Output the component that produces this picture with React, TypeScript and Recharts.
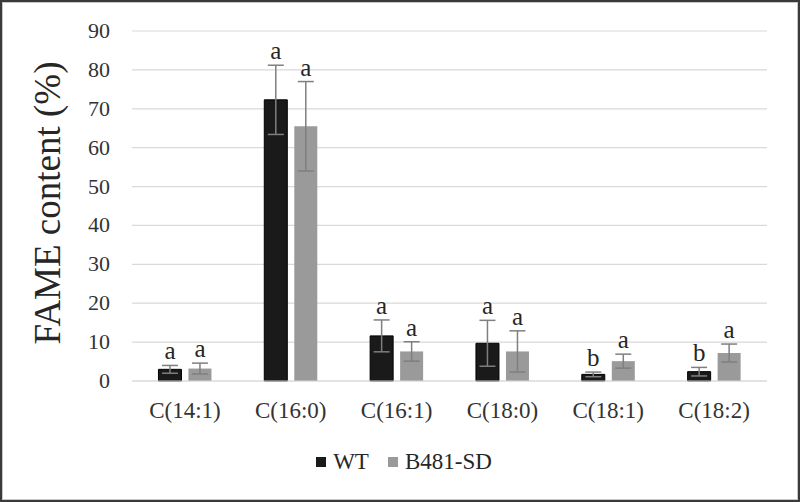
import React from 'react';
import { BarChart, Bar, XAxis, YAxis, CartesianGrid, ErrorBar, LabelList, Legend, Label } from 'recharts';

const categories = ['C(14:1)', 'C(16:0)', 'C(16:1)', 'C(18:0)', 'C(18:1)', 'C(18:2)'];
const wtValues = [3.0, 72.3, 11.6, 9.7, 1.7, 2.4];
const wtErrors = [1.0, 8.9, 4.1, 5.9, 0.6, 1.1];
const wtLetters = ['a', 'a', 'a', 'a', 'b', 'b'];
const sdValues = [3.2, 65.5, 7.6, 7.6, 5.1, 7.2];
const sdErrors = [1.4, 11.5, 2.5, 5.3, 1.8, 2.3];
const sdLetters = ['a', 'a', 'a', 'a', 'a', 'a'];
const yTicks = [0, 10, 20, 30, 40, 50, 60, 70, 80, 90];

const WT_COLOR = '#1a1a1a';
const SD_COLOR = '#9a9a9a';
const FONT = 'Liberation Serif';

const data = categories.map((name, i) => ({
  name,
  wt: wtValues[i],
  wtErr: wtErrors[i],
  sd: sdValues[i],
  sdErr: sdErrors[i],
}));

const legendItems = [
  { label: 'WT', color: WT_COLOR },
  { label: 'B481-SD', color: SD_COLOR },
];

// letter sits just above the top of the error bar
const makeLetter = (values: number[], errors: number[], letters: string[]) => (props: any) => {
  const vb = props.viewBox || props;
  const x = vb.x ?? props.x;
  const y = vb.y ?? props.y;
  const width = vb.width ?? props.width;
  const height = vb.height ?? props.height;
  const i = props.index;
  const errPx = (errors[i] * Math.abs(height)) / values[i];
  return (
    <text x={x + width / 2} y={y - errPx - 6} textAnchor="middle" style={{ fontFamily: FONT }} fontSize={25} fill="#262626">
      {letters[i]}
    </text>
  );
};

const XTick = (props: any) => {
  const { x, y, payload } = props;
  return (
    <text x={x} y={y + 16} textAnchor="middle" style={{ fontFamily: FONT }} fontSize={23} fill="#333">
      {payload.value}
    </text>
  );
};

const YTick = (props: any) => {
  const { x, y, payload } = props;
  return (
    <text x={x} y={y + 7} textAnchor="end" style={{ fontFamily: FONT }} fontSize={22} fill="#333">
      {payload.value}
    </text>
  );
};

const renderLegend = () => (
  <div
    style={{
      display: 'flex',
      justifyContent: 'center',
      alignItems: 'center',
      height: 30,
      paddingLeft: 8,
      fontFamily: FONT,
      fontSize: 23,
      color: '#262626',
    }}
  >
    {legendItems.map((item, i) => (
      <div key={item.label} style={{ display: 'flex', alignItems: 'center', marginLeft: i === 0 ? 0 : 19 }}>
        <span style={{ width: 10, height: 10, background: item.color, marginRight: 7, display: 'inline-block' }} />
        <span style={{ fontFamily: FONT }}>{item.label}</span>
      </div>
    ))}
  </div>
);

export default function App() {
  return (
    <div style={{ position: 'absolute', left: 0, top: 0, width: 800, height: 502, background: '#fff' }}>
      <BarChart
        width={800}
        height={502}
        data={data}
        margin={{ top: 31, right: 33, left: 0, bottom: 41 }}
        barCategoryGap="25%"
        barGap={7}
      >
        <CartesianGrid vertical={false} stroke="#d9d9d9" strokeWidth={1.2} />
        <XAxis
          dataKey="name"
          height={50}
          axisLine={{ stroke: '#d9d9d9', strokeWidth: 1.2 }}
          tickLine={false}
          tickMargin={15}
          tick={<XTick />}
        />
        <YAxis
          width={132}
          domain={[0, 90]}
          ticks={yTicks}
          axisLine={false}
          tickLine={false}
          tickMargin={16}
          tick={<YTick />}
        >
          <Label
            content={() => (
              <text x={60} y={203} transform="rotate(-90 60 203)" textAnchor="middle" style={{ fontFamily: FONT }} fontSize={37} fill="#262626">
                FAME content (%)
              </text>
            )}
          />
        </YAxis>
        <Legend verticalAlign="bottom" content={renderLegend} wrapperStyle={{ left: 0, top: 447, width: 800, height: 30 }} />
        <Bar dataKey="wt" name="WT" fill={WT_COLOR} stroke="#000" strokeWidth={1} isAnimationActive={false}>
          <ErrorBar dataKey="wtErr" width={8} stroke="#7f7f7f" strokeWidth={1.5} />
          <LabelList dataKey="wt" content={makeLetter(wtValues, wtErrors, wtLetters)} />
        </Bar>
        <Bar dataKey="sd" name="B481-SD" fill={SD_COLOR} isAnimationActive={false}>
          <ErrorBar dataKey="sdErr" width={8} stroke="#7f7f7f" strokeWidth={1.5} />
          <LabelList dataKey="sd" content={makeLetter(sdValues, sdErrors, sdLetters)} />
        </Bar>
      </BarChart>
      <div
        style={{
          position: 'absolute',
          left: 0,
          top: 0,
          width: 800,
          height: 502,
          boxSizing: 'border-box',
          border: '2px solid #3a3a3a',
          boxShadow: 'inset 0 0 0 1px #c8c8c8',
          pointerEvents: 'none',
        }}
      />
    </div>
  );
}
